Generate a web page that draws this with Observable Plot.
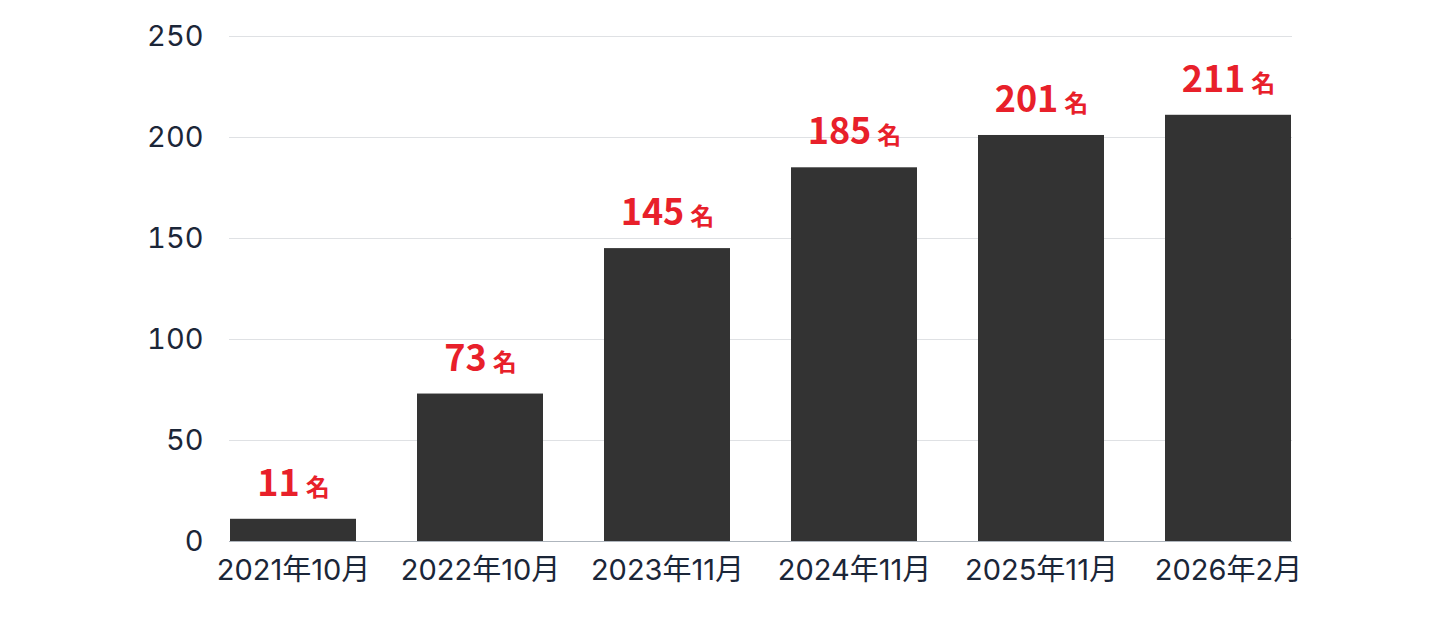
<!DOCTYPE html>
<html>
<head>
<meta charset="utf-8">
<script src="https://cdn.jsdelivr.net/npm/d3@7"></script>
<script src="https://cdn.jsdelivr.net/npm/@observablehq/plot@0.6"></script>
<style>
  html, body { margin: 0; padding: 0; background: #fff; }
  #chart svg { display: block; }
</style>
</head>
<body>
<div id="chart"></div>
<script>
const categories = ["2021年10月", "2022年10月", "2023年11月", "2024年11月", "2025年11月", "2026年2月"];
const values = [11, 73, 145, 185, 201, 211];
const yTicks = [0, 50, 100, 150, 200, 250];
const unit = "名";

const data = categories.map((c, i) => ({ category: c, value: values[i] }));

const chart = Plot.plot({
  width: 1440,
  height: 626,
  marginLeft: 229,
  marginRight: 148,
  marginTop: 36,
  marginBottom: 85,
  style: { fontFamily: "Inter, 'Noto Sans CJK JP', sans-serif", background: "#fff", color: "#1b2638" },
  x: { domain: categories, paddingInner: 0.327, paddingOuter: 0, label: null },
  y: { domain: [0, 250], label: null },
  marks: [
    Plot.gridY(yTicks.filter(t => t > 0), { stroke: "#dfe1e4", strokeOpacity: 1, strokeWidth: 1.2 }),
    Plot.barY(data, { x: "category", y: "value", fill: "#333333" }),
    Plot.ruleY([0], { stroke: "#aeb5bd", strokeWidth: 1.2 }),
    Plot.axisY({ ticks: yTicks, tickSize: 0, tickPadding: 26, fontSize: 29, fill: "#1b2638", label: null }),
    Plot.axisX({ tickSize: 0, tickPadding: 18, fontSize: 29, fill: "#1b2638", label: null }),
    Plot.text(data, {
      x: "category", y: "value", text: d => `${d.value}${unit}`,
      dy: -35, fill: "#e8202a", fontSize: 36, fontWeight: 700,
      fontFamily: "'Noto Sans CJK JP', sans-serif",
      className: "vlabel"
    })
  ]
});

document.getElementById("chart").appendChild(chart);

// split value labels into number + smaller unit
d3.select(chart).selectAll("g.vlabel text").each(function () {
  const t = d3.select(this);
  const s = t.text();
  const num = s.slice(0, -unit.length);
  t.text(null);
  t.append("tspan").text(num);
  t.append("tspan").attr("dx", 6).attr("font-size", 24).text(unit);
});
</script>
</body>
</html>
